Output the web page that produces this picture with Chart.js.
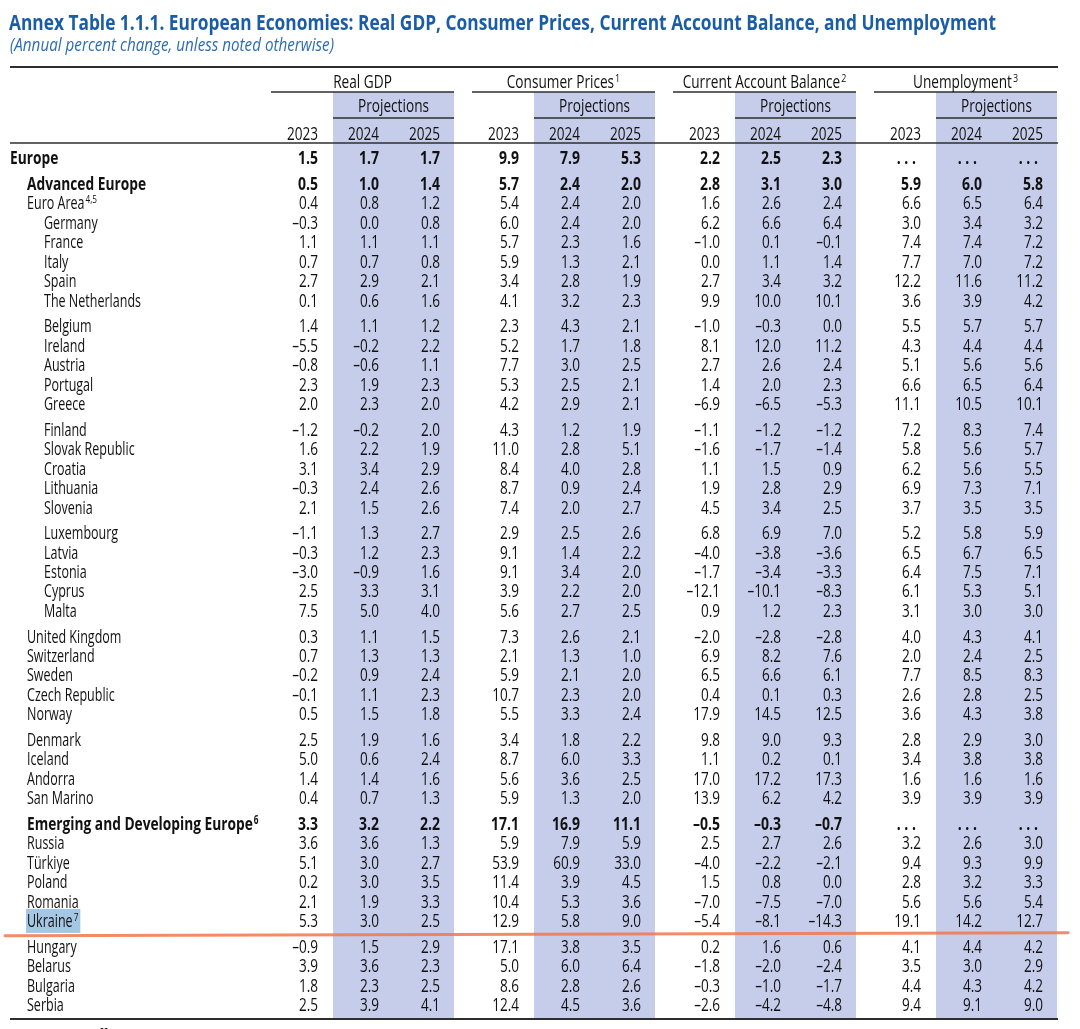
<!DOCTYPE html>
<html><head><meta charset="utf-8">
<script src="https://cdn.jsdelivr.net/npm/chart.js@4.4.1/dist/chart.umd.min.js"></script>
<style>html,body{margin:0;padding:0;background:#fff}#wrap{width:1080px;height:1029px;position:relative}</style>
</head><body><div id="wrap"><canvas id="c"></canvas></div>
<script>
// ---------------- DATA ----------------
const titleText = "Annex Table 1.1.1. European Economies: Real GDP, Consumer Prices, Current Account Balance, and Unemployment";
const subtitleText = "(Annual percent change, unless noted otherwise)";
const sourceText = "Source: IMF staff estimates.";
const seriesGroups = ["Real GDP", "Consumer Prices", "Current Account Balance", "Unemployment"];
const groupNotes = ["", "1", "2", "3"];
const years = ["2023", "2024", "2025"];
const projectionLabel = "Projections";

const rowLabels = ["Europe","Advanced Europe","Euro Area","Germany","France","Italy","Spain","The Netherlands",
  "Belgium","Ireland","Austria","Portugal","Greece",
  "Finland","Slovak Republic","Croatia","Lithuania","Slovenia",
  "Luxembourg","Latvia","Estonia","Cyprus","Malta",
  "United Kingdom","Switzerland","Sweden","Czech Republic","Norway",
  "Denmark","Iceland","Andorra","San Marino",
  "Emerging and Developing Europe","Russia","Türkiye","Poland","Romania","Ukraine",
  "Hungary","Belarus","Bulgaria","Serbia"];
const labelNotes = {"Euro Area": "4,5", "Emerging and Developing Europe": "6", "Ukraine": "7"};

const gdp2023 = [1.5,0.5,0.4,-0.3,1.1,0.7,2.7,0.1, 1.4,-5.5,-0.8,2.3,2.0, -1.2,1.6,3.1,-0.3,2.1, -1.1,-0.3,-3.0,2.5,7.5, 0.3,0.7,-0.2,-0.1,0.5, 2.5,5.0,1.4,0.4, 3.3,3.6,5.1,0.2,2.1,5.3, -0.9,3.9,1.8,2.5];
const gdp2024 = [1.7,1.0,0.8,0.0,1.1,0.7,2.9,0.6, 1.1,-0.2,-0.6,1.9,2.3, -0.2,2.2,3.4,2.4,1.5, 1.3,1.2,-0.9,3.3,5.0, 1.1,1.3,0.9,1.1,1.5, 1.9,0.6,1.4,0.7, 3.2,3.6,3.0,3.0,1.9,3.0, 1.5,3.6,2.3,3.9];
const gdp2025 = [1.7,1.4,1.2,0.8,1.1,0.8,2.1,1.6, 1.2,2.2,1.1,2.3,2.0, 2.0,1.9,2.9,2.6,2.6, 2.7,2.3,1.6,3.1,4.0, 1.5,1.3,2.4,2.3,1.8, 1.6,2.4,1.6,1.3, 2.2,1.3,2.7,3.5,3.3,2.5, 2.9,2.3,2.5,4.1];
const cpi2023 = [9.9,5.7,5.4,6.0,5.7,5.9,3.4,4.1, 2.3,5.2,7.7,5.3,4.2, 4.3,11.0,8.4,8.7,7.4, 2.9,9.1,9.1,3.9,5.6, 7.3,2.1,5.9,10.7,5.5, 3.4,8.7,5.6,5.9, 17.1,5.9,53.9,11.4,10.4,12.9, 17.1,5.0,8.6,12.4];
const cpi2024 = [7.9,2.4,2.4,2.4,2.3,1.3,2.8,3.2, 4.3,1.7,3.0,2.5,2.9, 1.2,2.8,4.0,0.9,2.0, 2.5,1.4,3.4,2.2,2.7, 2.6,1.3,2.1,2.3,3.3, 1.8,6.0,3.6,1.3, 16.9,7.9,60.9,3.9,5.3,5.8, 3.8,6.0,2.8,4.5];
const cpi2025 = [5.3,2.0,2.0,2.0,1.6,2.1,1.9,2.3, 2.1,1.8,2.5,2.1,2.1, 1.9,5.1,2.8,2.4,2.7, 2.6,2.2,2.0,2.0,2.5, 2.1,1.0,2.0,2.0,2.4, 2.2,3.3,2.5,2.0, 11.1,5.9,33.0,4.5,3.6,9.0, 3.5,6.4,2.6,3.6];
const cab2023 = [2.2,2.8,1.6,6.2,-1.0,0.0,2.7,9.9, -1.0,8.1,2.7,1.4,-6.9, -1.1,-1.6,1.1,1.9,4.5, 6.8,-4.0,-1.7,-12.1,0.9, -2.0,6.9,6.5,0.4,17.9, 9.8,1.1,17.0,13.9, -0.5,2.5,-4.0,1.5,-7.0,-5.4, 0.2,-1.8,-0.3,-2.6];
const cab2024 = [2.5,3.1,2.6,6.6,0.1,1.1,3.4,10.0, -0.3,12.0,2.6,2.0,-6.5, -1.2,-1.7,1.5,2.8,3.4, 6.9,-3.8,-3.4,-10.1,1.2, -2.8,8.2,6.6,0.1,14.5, 9.0,0.2,17.2,6.2, -0.3,2.7,-2.2,0.8,-7.5,-8.1, 1.6,-2.0,-1.0,-4.2];
const cab2025 = [2.3,3.0,2.4,6.4,-0.1,1.4,3.2,10.1, 0.0,11.2,2.4,2.3,-5.3, -1.2,-1.4,0.9,2.9,2.5, 7.0,-3.6,-3.3,-8.3,2.3, -2.8,7.6,6.1,0.3,12.5, 9.3,0.1,17.3,4.2, -0.7,2.6,-2.1,0.0,-7.0,-14.3, 0.6,-2.4,-1.7,-4.8];
const unemp2023 = [null,5.9,6.6,3.0,7.4,7.7,12.2,3.6, 5.5,4.3,5.1,6.6,11.1, 7.2,5.8,6.2,6.9,3.7, 5.2,6.5,6.4,6.1,3.1, 4.0,2.0,7.7,2.6,3.6, 2.8,3.4,1.6,3.9, null,3.2,9.4,2.8,5.6,19.1, 4.1,3.5,4.4,9.4];
const unemp2024 = [null,6.0,6.5,3.4,7.4,7.0,11.6,3.9, 5.7,4.4,5.6,6.5,10.5, 8.3,5.6,5.6,7.3,3.5, 5.8,6.7,7.5,5.3,3.0, 4.3,2.4,8.5,2.8,4.3, 2.9,3.8,1.6,3.9, null,2.6,9.3,3.2,5.6,14.2, 4.4,3.0,4.3,9.1];
const unemp2025 = [null,5.8,6.4,3.2,7.2,7.2,11.2,4.2, 5.7,4.4,5.6,6.4,10.1, 7.4,5.7,5.5,7.1,3.5, 5.9,6.5,7.1,5.1,3.0, 4.1,2.5,8.3,2.5,3.8, 3.0,3.8,1.6,3.9, null,3.0,9.9,3.3,5.4,12.7, 4.2,2.9,4.2,9.0];

const seriesByGroup = [
  [gdp2023, gdp2024, gdp2025],
  [cpi2023, cpi2024, cpi2025],
  [cab2023, cab2024, cab2025],
  [unemp2023, unemp2024, unemp2025]
];

// ---------------- LAYOUT / STYLE ----------------
const boldRows = ["Europe", "Advanced Europe", "Emerging and Developing Europe"];
const gapBefore = ["Advanced Europe","Belgium","Finland","Luxembourg","United Kingdom","Denmark","Emerging and Developing Europe","Hungary"];
const rowIndent = [0,1,1,2,2,2,2,2, 2,2,2,2,2, 2,2,2,2,2, 2,2,2,2,2, 1,1,1,1,1, 1,1,1,1, 1,1,1,1,1,1, 1,1,1,1];
const highlightRow = "Ukraine";
const markAfterRow = "Ukraine";

const ROW_PX = 19.45, GAP = 0.318, TOP_ROW_PX = 158;
const COL_PX = 61, GROUP_STEP = 3.295, FIRST_COL_PX = 318;
const W = 1080, H = 1029;
const INDENT_PX = [10, 27, 44];
const LEFT = 10, RIGHT = 1058;
const FS = 17.5, SUP = 11.5;
const TEXT = "#111111", RULE = "#2e2e2e", BAND = "#c6cdea", HILITE = "#a6c7e3";
const TITLE_COLOR = "#1a5da6", SUB_COLOR = "#2d6cb2";
const FAM = '"Open Sans", "Noto Sans", "DejaVu Sans", sans-serif';

let gaps = 0;
const rowPos = rowLabels.map((l, i) => { if (gapBefore.includes(l)) gaps++; return i + gaps * GAP; });
const colValue = (g, c) => g * GROUP_STEP + c;

const datasets = [];
seriesGroups.forEach((grp, g) => {
  years.forEach((yr, c) => {
    datasets.push({
      label: grp + " " + yr,
      data: seriesByGroup[g][c].map((v, i) => ({ x: colValue(g, c), y: rowPos[i], v: v, row: i })),
      pointRadius: 0, pointHoverRadius: 0, showLine: false
    });
  });
});

function font(w, s, st) { return (st || "normal") + " " + w + " " + s + "px " + FAM; }
function measure(ctx, t, f) { ctx.save(); ctx.font = f; const w = ctx.measureText(t).width; ctx.restore(); return w; }
function drawT(ctx, t, x, y, f, sx, align, color) {
  ctx.save(); ctx.font = f; ctx.fillStyle = color || TEXT; ctx.textAlign = align || "left"; ctx.textBaseline = "alphabetic";
  ctx.translate(x, y); ctx.scale(sx, 1); ctx.fillText(t, 0, 0); ctx.restore();
}
function hline(ctx, x1, x2, y, lw, col) {
  ctx.save(); ctx.strokeStyle = col || RULE; ctx.lineWidth = lw; ctx.beginPath(); ctx.moveTo(x1, y); ctx.lineTo(x2, y); ctx.stroke(); ctx.restore();
}
function fmt(v) { if (v === null) return ". . ."; return (v < 0 ? "\u2013" : "") + Math.abs(v).toFixed(1); }

let S = null;
function scales(ctx) {
  if (S) return S;
  S = {
    reg: 97 / measure(ctx, "The Netherlands", font(400, FS)),
    head: 71 / measure(ctx, "Projections", font(400, FS)),
    bold: 119 / measure(ctx, "Advanced Europe", font(700, FS)),
    num: 31 / measure(ctx, "2023", font(400, FS)),
    numB: 32 / measure(ctx, "2023", font(700, FS)),
    title: 987 / measure(ctx, titleText, font(700, 21)),
    sub: 324 / measure(ctx, subtitleText, font(400, 18, "italic"))
  };
  return S;
}

const tablePlugin = {
  id: "table",
  beforeDatasetsDraw(chart) {
    const ctx = chart.ctx, xs = chart.scales.x, ys = chart.scales.y, k = scales(ctx);
    const X = v => xs.getPixelForValue(v), Y = v => ys.getPixelForValue(v);
    const lastPos = rowPos[rowPos.length - 1];
    ctx.save(); ctx.fillStyle = "#fff"; ctx.fillRect(0, 0, W, H); ctx.restore();

    // projection bands
    seriesGroups.forEach((grp, g) => {
      const bl = X(colValue(g, 1)) - 46, br = X(colValue(g, 2)) + 14;
      const top = Y(-3.393), bot = Y(lastPos + 0.72);
      ctx.fillStyle = BAND; ctx.fillRect(bl, top, br - bl, bot - top);
    });

    // highlight of a row label
    const hi = rowLabels.indexOf(highlightRow);
    if (hi >= 0) {
      const lx = INDENT_PX[rowIndent[hi]];
      const note = labelNotes[rowLabels[hi]];
      const w = measure(ctx, rowLabels[hi], font(400, FS)) * k.reg + (note ? measure(ctx, note, font(400, SUP)) * k.reg + 1 : 0);
      const yc = Y(rowPos[hi]);
      ctx.fillStyle = HILITE; ctx.fillRect(lx - 1, yc - 12, w + 3, 24);
    }

    // title & subtitle
    drawT(ctx, titleText, LEFT - 1, 30, font(700, 21), k.title, "left", TITLE_COLOR);
    drawT(ctx, subtitleText, LEFT, 51, font(400, 18, "italic"), k.sub, "left", SUB_COLOR);

    // rules
    hline(ctx, LEFT, RIGHT, Y(-4.679), 2);
    hline(ctx, LEFT, RIGHT, Y(-0.771), 1.6);
    hline(ctx, LEFT, RIGHT, Y(lastPos + 0.72), 2);

    // headers
    seriesGroups.forEach((grp, g) => {
      const ul = X(colValue(g, 0)) - 47, bl = X(colValue(g, 1)) - 46, br = X(colValue(g, 2)) + 14;
      hline(ctx, ul, br, Y(-3.393), 1.6);
      hline(ctx, bl, br, Y(-2.057), 1.6);
      const f = font(400, FS), fs = font(400, SUP);
      const tw = measure(ctx, grp, f) * k.head, sw = groupNotes[g] ? measure(ctx, groupNotes[g], fs) * k.head + 1 : 0;
      const x0 = (ul + br) / 2 - (tw + sw) / 2;
      drawT(ctx, grp, x0, Y(-3.599), f, k.head);
      if (groupNotes[g]) drawT(ctx, groupNotes[g], x0 + tw + 1, Y(-3.599) - 5.5, fs, k.head);
      drawT(ctx, projectionLabel, (bl + br) / 2, Y(-2.365), f, k.head, "center");
      years.forEach((yr, c) => drawT(ctx, yr, X(colValue(g, c)), Y(-0.925), f, k.num, "right"));
    });

    // row labels
    rowLabels.forEach((lab, i) => {
      const b = boldRows.includes(lab);
      const f = font(b ? 700 : 400, FS), sx = b ? k.bold : k.reg;
      const x = INDENT_PX[rowIndent[i]], y = Y(rowPos[i]) + 6.3;
      drawT(ctx, lab, x, y, f, sx);
      const note = labelNotes[lab];
      if (note) {
        const w = measure(ctx, lab, f) * sx;
        drawT(ctx, note, x + w + 1, y - 6, font(b ? 700 : 400, SUP), k.reg);
      }
    });

    // source (cut at page bottom)
    drawT(ctx, sourceText, LEFT, Y(lastPos + 1.9), font(400, FS), k.reg);
  },
  afterDatasetsDraw(chart) {
    const ctx = chart.ctx, k = scales(ctx);
    chart.data.datasets.forEach((ds, d) => {
      const meta = chart.getDatasetMeta(d);
      meta.data.forEach((el, i) => {
        const p = ds.data[i];
        const b = boldRows.includes(rowLabels[p.row]);
        drawT(ctx, fmt(p.v), el.x - (p.v === null ? 5 : 0), el.y + 6.3, font(b ? 700 : 400, FS), b ? k.numB : k.num, "right");
      });
    });
  },
  afterDraw(chart) {
    const ctx = chart.ctx, ys = chart.scales.y;
    const m = rowLabels.indexOf(markAfterRow);
    const y = ys.getPixelForValue(rowPos[m] + 0.68);
    ctx.save(); ctx.strokeStyle = "rgba(238,120,76,0.85)"; ctx.lineWidth = 3; ctx.lineCap = "round";
    ctx.beginPath(); ctx.moveTo(5, y + 1.5); ctx.lineTo(1068, y - 1.5); ctx.stroke(); ctx.restore();
  }
};

new Chart(document.getElementById("c"), {
  type: "scatter",
  data: { datasets },
  options: {
    responsive: true, maintainAspectRatio: false, animation: false, events: [],
    layout: { padding: 0 },
    scales: {
      x: { type: "linear", display: false, min: -FIRST_COL_PX / COL_PX, max: (W - FIRST_COL_PX) / COL_PX },
      y: { type: "linear", display: false, reverse: true, min: -TOP_ROW_PX / ROW_PX, max: (H - TOP_ROW_PX) / ROW_PX }
    },
    plugins: { legend: { display: false }, tooltip: { enabled: false }, title: { display: false } }
  },
  plugins: [tablePlugin]
});
</script>
</body></html>
